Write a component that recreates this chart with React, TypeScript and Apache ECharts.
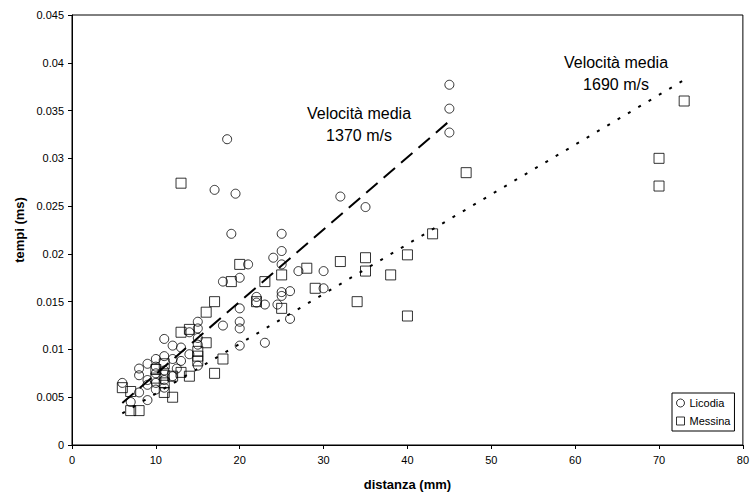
import React, { useEffect, useRef } from "react";
import * as echarts from "echarts";

const xTicks = [0, 10, 20, 30, 40, 50, 60, 70, 80];
const yTicks = [0, 0.005, 0.01, 0.015, 0.02, 0.025, 0.03, 0.035, 0.04, 0.045];

const licodia: [number, number][] = [
  [18.5, 0.032], [17, 0.0267], [19.5, 0.0263], [32, 0.026], [19, 0.0221], [25, 0.0221],
  [45, 0.0377], [45, 0.0352], [45, 0.0327], [35, 0.0249],
  [25, 0.0203], [24, 0.0196], [25, 0.0189], [21, 0.0189], [20, 0.0175], [18, 0.0171],
  [27, 0.0182], [30, 0.0182], [30, 0.0164], [22, 0.0155], [22, 0.0149], [23, 0.0147],
  [24.5, 0.0147], [25, 0.016], [25, 0.0156], [26, 0.0161], [20, 0.0143], [26, 0.0132],
  [20, 0.0129], [20, 0.0122], [18, 0.0125], [23, 0.0107], [20, 0.0104],
  [15, 0.0129], [15, 0.0122], [15, 0.0112], [15, 0.0105], [14, 0.0118], [13, 0.0102],
  [12, 0.0104], [11, 0.0111], [12, 0.009], [11, 0.0093], [10, 0.009], [9, 0.0085],
  [10, 0.0082], [8, 0.008], [8, 0.0073], [9, 0.0068], [10, 0.0075], [11, 0.0078],
  [10, 0.0065], [11, 0.0068], [9, 0.0063], [12, 0.0072], [10, 0.0058], [11, 0.006],
  [8, 0.0055], [9, 0.0047], [7, 0.0045], [6, 0.0065], [15, 0.0083], [13, 0.0088],
  [12.5, 0.008], [14, 0.0095],
];

const messina: [number, number][] = [
  [73, 0.036], [70, 0.03], [70, 0.0271], [47, 0.0285], [43, 0.0221], [40, 0.0199],
  [35, 0.0196], [35, 0.0182], [38, 0.0178], [34, 0.015], [40, 0.0135], [13, 0.0274],
  [20, 0.0189], [19, 0.0171], [23, 0.0171], [25, 0.0178], [28, 0.0185], [32, 0.0192],
  [29, 0.0164], [22, 0.015], [25, 0.0143], [17, 0.015], [16, 0.0139], [16, 0.0107],
  [14, 0.0121], [13, 0.0118], [15, 0.0098], [15, 0.0093], [15, 0.0088], [18, 0.009],
  [17, 0.0075], [14, 0.0072], [13, 0.0076], [12, 0.0072], [12, 0.005], [11, 0.0055],
  [11, 0.0065], [10, 0.0079], [11, 0.0085], [6, 0.006], [7, 0.0056], [7, 0.0036],
  [8, 0.0036], [10, 0.007], [11, 0.0073],
];

const trendLicodia: [number, number][] = [[6, 0.0044], [45, 0.0339]];
const trendMessina: [number, number][] = [[6, 0.0033], [73, 0.0382]];

const annotations = [
  { text: "Velocità media\n1370 m/s", x: 359, y: 102 },
  { text: "Velocità media\n1690 m/s", x: 616, y: 51 },
];

const FONT = "'Liberation Sans', Arial, sans-serif";

export default function App() {
  const ref = useRef<HTMLDivElement>(null);
  useEffect(() => {
    if (!ref.current) return;
    const chart = echarts.init(ref.current, null, { renderer: "svg" });
    const markerStyle = { color: "rgba(0,0,0,0)", borderColor: "#000", borderWidth: 1 };
    chart.setOption({
      animation: false,
      backgroundColor: "#fff",
      textStyle: { fontFamily: FONT },
      grid: {
        left: 72, right: 4, top: 15, bottom: 50,
        show: true, borderColor: "#000", borderWidth: 1, backgroundColor: "transparent",
      },
      xAxis: {
        type: "value", min: xTicks[0], max: xTicks[xTicks.length - 1], interval: 10,
        name: "distanza (mm)", nameLocation: "middle", nameGap: 33,
        nameTextStyle: { fontFamily: FONT, fontWeight: "bold", fontSize: 13, color: "#000" },
        axisLine: { lineStyle: { color: "#000", width: 1 } },
        axisTick: { show: true, length: 4, lineStyle: { color: "#000" } },
        axisLabel: { fontFamily: FONT, fontSize: 11, color: "#000", margin: 9 },
        splitLine: { show: false },
      },
      yAxis: {
        type: "value", min: yTicks[0], max: yTicks[yTicks.length - 1], interval: 0.005,
        name: "tempi (ms)", nameLocation: "middle", nameGap: 45, nameRotate: 90,
        nameTextStyle: { fontFamily: FONT, fontWeight: "bold", fontSize: 13, color: "#000" },
        axisLine: { show: true, lineStyle: { color: "#000", width: 1 } },
        axisTick: { show: true, length: 4, lineStyle: { color: "#000" } },
        axisLabel: {
          fontFamily: FONT, fontSize: 11, color: "#000", margin: 8,
          formatter: (v: number) => String(Math.round(v * 1000) / 1000),
        },
        splitLine: { show: false },
      },
      legend: {
        orient: "vertical", left: 672, top: 393,
        padding: [3, 4, 3, 4], itemGap: 4, itemWidth: 8, itemHeight: 8, itemTextGap: 3,
        borderColor: "#000", borderWidth: 1, backgroundColor: "#fff",
        textStyle: { fontFamily: FONT, fontSize: 11, color: "#000", lineHeight: 14 },
        data: [
          { name: "Licodia", icon: "circle", itemStyle: markerStyle },
          { name: "Messina", icon: "rect", itemStyle: markerStyle },
        ],
      },
      graphic: annotations.map((a) => ({
        type: "text", x: a.x, y: a.y, z: 100,
        style: {
          text: a.text, fontFamily: FONT, fontSize: 16, fill: "#000",
          textAlign: "center", textVerticalAlign: "top", lineHeight: 22,
        },
      })),
      series: [
        {
          name: "Licodia", type: "scatter", symbol: "circle", symbolSize: 9,
          itemStyle: markerStyle, data: licodia,
        },
        {
          name: "Messina", type: "scatter", symbol: "rect", symbolSize: 10,
          itemStyle: markerStyle, data: messina,
        },
        {
          name: "trend Licodia", type: "line", symbol: "none", data: trendLicodia,
          lineStyle: { color: "#000", width: 2, type: [15, 8] }, z: 3,
        },
        {
          name: "trend Messina", type: "line", symbol: "none", data: trendMessina,
          lineStyle: { color: "#000", width: 2, type: [3, 9] }, z: 3,
        },
      ],
    });
    return () => chart.dispose();
  }, []);
  return (
    <div
      ref={ref}
      style={{ position: "fixed", left: 0, top: 0, width: 752, height: 496 }}
    />
  );
}
